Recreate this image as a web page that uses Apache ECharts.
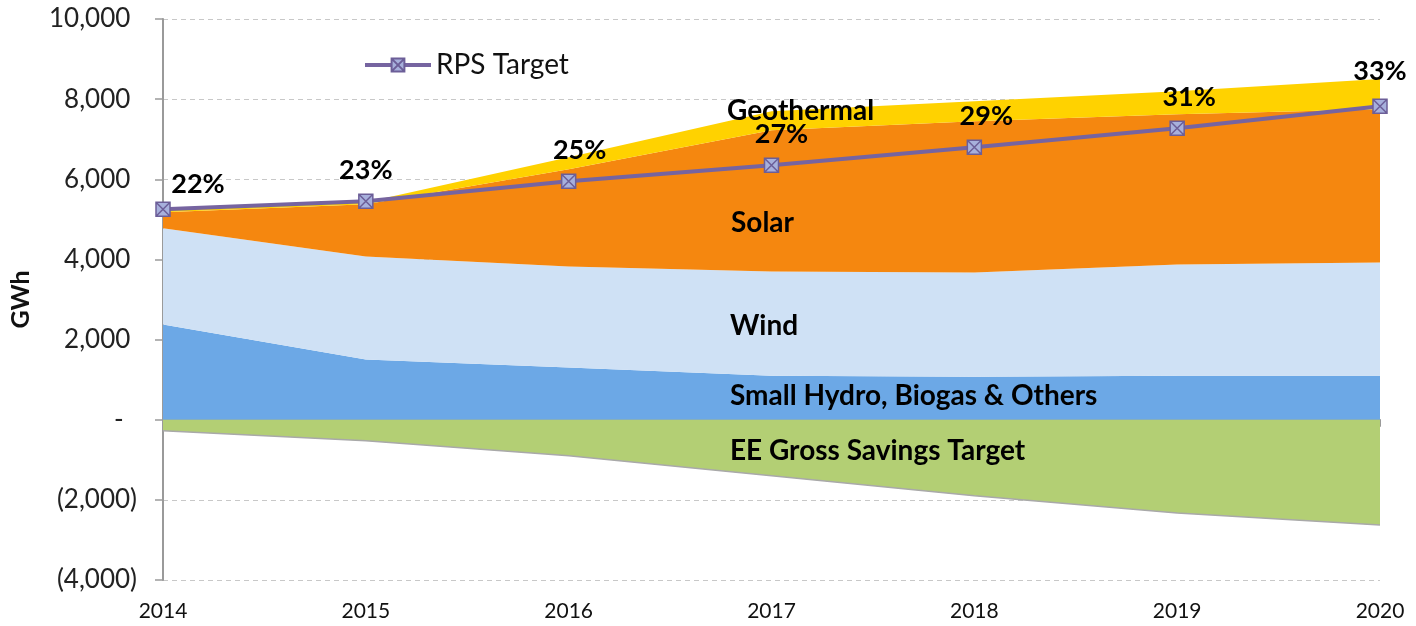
<!DOCTYPE html>
<html>
<head>
<meta charset="utf-8">
<script src="https://cdn.jsdelivr.net/npm/echarts@6/dist/echarts.min.js"></script>
<style>
  html, body { margin: 0; padding: 0; background: #fff; }
  #chart { width: 1416px; height: 626px; }
</style>
</head>
<body>
<div id="chart"></div>
<script>
// data (GWh)
const years = ['2014', '2015', '2016', '2017', '2018', '2019', '2020'];
const smallHydro = [2375, 1500, 1300, 1100, 1075, 1100, 1100];
const wind = [2400, 2575, 2525, 2600, 2600, 2775, 2825];
const solar = [400, 1300, 2425, 3525, 3775, 3750, 3825];
const geothermal = [50, 50, 300, 475, 500, 575, 750];
const eeSavings = [-275, -525, -900, -1400, -1900, -2325, -2625];
const rpsTarget = [5250, 5450, 5950, 6350, 6800, 7275, 7825];
const rpsPct = ['22%', '23%', '25%', '27%', '29%', '31%', '33%'];

// label nudges for the % tags (pixels)
const pctShift = [[35, 6], [0, 0], [11, 0], [10, 0], [12, 0], [12, 0], [0, -4]];

const font = 'Lato, "DejaVu Sans", sans-serif';

let chart = echarts.init(document.getElementById('chart'));

function yFmt(v) {
    if (v === 0) return '-  ';
    if (v < 0) return '(' + Math.abs(v).toLocaleString('en-US') + ')';
    return v.toLocaleString('en-US') + ' ';
}

function area(name, data, color) {
    return {
        name: name,
        type: 'line',
        stack: 'supply',
        data: data,
        showSymbol: false,
        lineStyle: { width: 0 },
        areaStyle: { color: color, opacity: 1 },
        itemStyle: { color: color },
        silent: true
    };
}

function areaText(text, x, y) {
    return {
        type: 'text', x: x, y: y, z: 100,
        style: { text: text, font: 'bold 28px ' + font, fill: '#000', verticalAlign: 'middle' }
    };
}

const markerPath = 'path://M0,0 L10,0 L10,10 L0,10 Z M0,0 L10,10 M10,0 L0,10';

let options = {
    animation: false,
    textStyle: { fontFamily: font },
    grid: { left: 160, right: 36, top: 19, bottom: 46 },
    legend: {
        data: ['RPS Target'],
        left: 358,
        top: 46,
        itemWidth: 66,
        itemHeight: 16,
        lineStyle: { width: 4 },
        textStyle: { fontSize: 28, color: '#111', fontFamily: font }
    },
    xAxis: [
        {
            // labels along the bottom
            type: 'category',
            data: years,
            boundaryGap: false,
            position: 'bottom',
            axisLine: { show: false, onZero: false },
            axisTick: { show: false },
            axisLabel: { fontSize: 21, color: '#111', margin: 21 },
            splitLine: { show: false }
        },
        {
            // the zero line with its ticks
            type: 'category',
            data: years,
            boundaryGap: false,
            position: 'bottom',
            axisLine: { show: true, onZero: true, lineStyle: { color: '#9a9a9a', width: 2 } },
            axisTick: { show: true, length: 7, lineStyle: { color: '#9a9a9a', width: 2 } },
            axisLabel: { show: false },
            splitLine: { show: false }
        }
    ],
    yAxis: {
        type: 'value',
        min: -4000,
        max: 10000,
        interval: 2000,
        name: 'GWh',
        nameLocation: 'middle',
        nameGap: 130,
        nameTextStyle: { fontSize: 25, fontWeight: 'bold', color: '#111' },
        axisLine: { show: true, lineStyle: { color: '#9a9a9a', width: 2 } },
        axisTick: { show: true, length: 8, lineStyle: { color: '#9a9a9a', width: 1.5 } },
        axisLabel: { fontSize: 26, color: '#222', margin: 26, formatter: yFmt },
        splitLine: { show: true, lineStyle: { color: '#c8c8c8', type: [5, 4], width: 1 } }
    },
    series: [
        area('Small Hydro, Biogas & Others', smallHydro, '#6ca8e6'),
        area('Wind', wind, '#cfe1f5'),
        area('Solar', solar, '#f5870f'),
        area('Geothermal', geothermal, '#ffd200'),
        {
            name: 'EE Gross Savings Target',
            type: 'line',
            data: eeSavings,
            showSymbol: false,
            lineStyle: { width: 1.5, color: '#a9a9a9' },
            areaStyle: { color: '#b3cf74', opacity: 1, origin: 0 },
            silent: true
        },
        {
            name: 'RPS Target',
            type: 'line',
            data: rpsTarget.map((v, i) => ({
                value: v,
                label: { offset: pctShift[i] }
            })),
            symbol: markerPath,
            symbolSize: 14,
            showAllSymbol: true,
            lineStyle: { color: '#7664a0', width: 4 },
            itemStyle: { color: '#a7b0dc', borderColor: '#6c5e98', borderWidth: 1.5 },
            label: {
                show: true,
                position: 'top',
                distance: 10,
                fontSize: 27,
                fontWeight: 'bold',
                color: '#000',
                formatter: p => rpsPct[p.dataIndex]
            },
            z: 5
        }
    ],
    graphic: [
        areaText('Geothermal', 727, 111),
        areaText('Solar', 731, 223),
        areaText('Wind', 730, 326),
        areaText('Small Hydro, Biogas & Others', 730, 396),
        areaText('EE Gross Savings Target', 730, 451)
    ]
};

chart.setOption(options);
</script>
</body>
</html>
